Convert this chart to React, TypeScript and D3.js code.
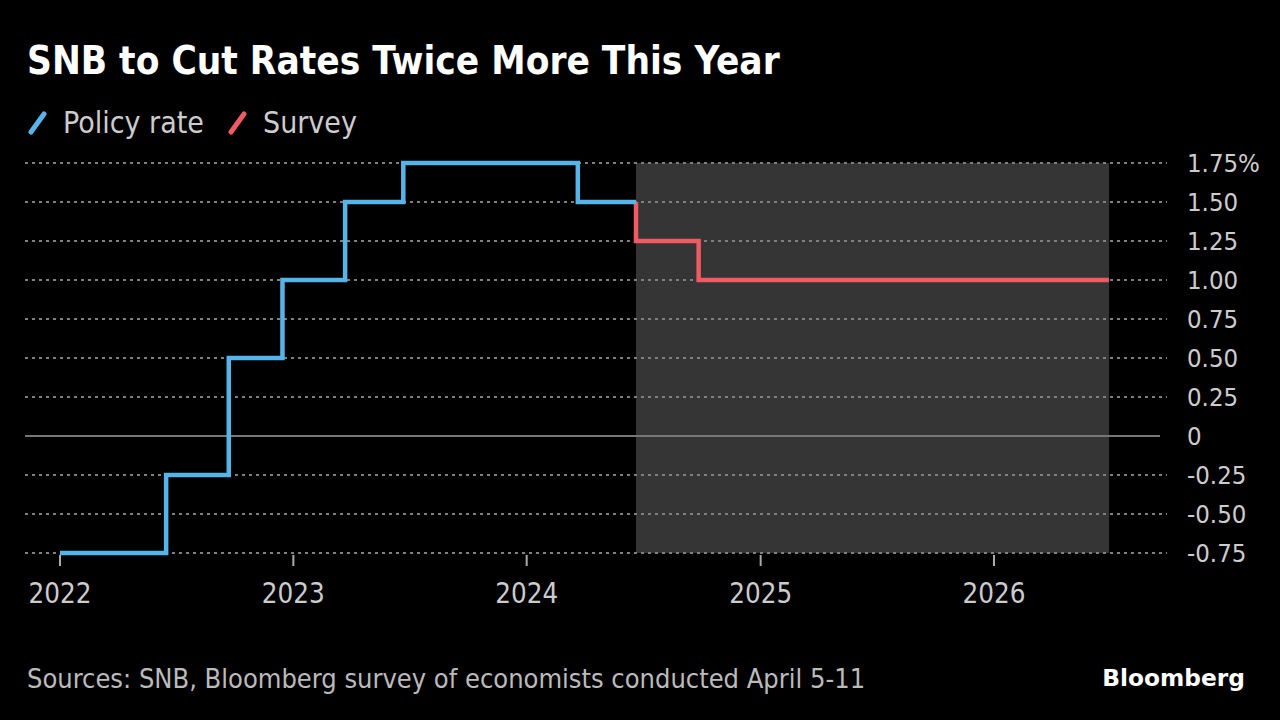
import React from "react";
import * as d3 from "d3";

const policyDates = ["2022-01-01", "2022-06-16", "2022-09-22", "2022-12-15", "2023-03-23", "2023-06-22", "2024-03-21", "2024-06-20"];
const policyValues = [-0.75, -0.25, 0.5, 1.0, 1.5, 1.75, 1.5, 1.5];

const surveyDates = ["2024-06-20", "2024-06-20", "2024-09-26", "2026-06-30"];
const surveyValues = [1.5, 1.25, 1.0, 1.0];

const forecastStart = "2024-06-20";
const forecastEnd = "2026-06-30";

const yTicks = [1.75, 1.5, 1.25, 1.0, 0.75, 0.5, 0.25, 0, -0.25, -0.5, -0.75];
const yTickLabels = ["1.75%", "1.50", "1.25", "1.00", "0.75", "0.50", "0.25", "0", "-0.25", "-0.50", "-0.75"];
const xTickYears = [2022, 2023, 2024, 2025, 2026];

const FONT = "'DejaVu Sans Condensed', 'DejaVu Sans', sans-serif";

export default function App() {
  const W = 1280;
  const H = 720;
  const parse = d3.timeParse("%Y-%m-%d");
  const x = d3.scaleTime().domain([new Date(2022, 0, 1), new Date(2026, 0, 1)]).range([60, 994]);
  const y = d3.scaleLinear().domain([-0.75, 1.75]).range([553, 163]);

  const policy = policyDates.map((d, i) => ({ date: parse(d) as Date, v: policyValues[i] }));
  const survey = surveyDates.map((d, i) => ({ date: parse(d) as Date, v: surveyValues[i] }));

  const line = d3
    .line<{ date: Date; v: number }>()
    .x((d) => x(d.date))
    .y((d) => y(d.v))
    .curve(d3.curveStepAfter);

  const fs = parse(forecastStart) as Date;
  const fe = parse(forecastEnd) as Date;

  return (
    <svg width={W} height={H} style={{ position: "absolute", left: 0, top: 0, background: "#000" }}>
      <rect x={0} y={0} width={W} height={H} fill="#000" />
      <text x={27} y={74} fill="#ffffff" fontFamily={FONT} fontWeight="bold" fontSize={38.4}>
        SNB to Cut Rates Twice More This Year
      </text>
      {/* legend */}
      <line x1={31} y1={132} x2={44} y2={114} stroke="#56b4e9" strokeWidth={5} strokeLinecap="round" />
      <text x={63} y={133} fill="#cccccc" fontFamily={FONT} fontSize={30}>Policy rate</text>
      <line x1={231} y1={132} x2={244} y2={114} stroke="#ef5a63" strokeWidth={5} strokeLinecap="round" />
      <text x={263} y={133} fill="#cccccc" fontFamily={FONT} fontSize={30}>Survey</text>

      {/* forecast shade */}
      <rect x={x(fs)} y={y(1.75)} width={x(fe) - x(fs)} height={y(-0.75) - y(1.75)} fill="#353535" />

      {/* grid */}
      {yTicks.map((t) =>
        t === 0 ? (
          <line key={t} x1={25} x2={1160} y1={y(t)} y2={y(t)} stroke="#777" strokeWidth={2} />
        ) : (
          <line key={t} x1={25} x2={1167} y1={y(t)} y2={y(t)} stroke="#808080" strokeWidth={2} strokeDasharray="3,4" />
        )
      )}
      {yTicks.map((t, i) => (
        <text key={"l" + t} x={1187} y={y(t)} dy="0.36em" fill="#cccccc" fontFamily={FONT} fontSize={25.5}>
          {yTickLabels[i]}
        </text>
      ))}

      {/* x axis */}
      {xTickYears.map((yr) => {
        const xp = x(new Date(yr, 0, 1));
        return (
          <g key={yr}>
            <line x1={xp} x2={xp} y1={555} y2={566} stroke="#aaa" strokeWidth={2} />
            <text x={xp} y={603} textAnchor="middle" fill="#cccccc" fontFamily={FONT} fontSize={27.5}>
              {yr}
            </text>
          </g>
        );
      })}

      {/* lines */}
      <path d={line(survey) || ""} fill="none" stroke="#ef5a63" strokeWidth={4.5} strokeLinejoin="miter" />
      <path d={line(policy) || ""} fill="none" stroke="#56b4e9" strokeWidth={4.5} strokeLinejoin="miter" />

      {/* footer */}
      <text x={27} y={688} fill="#bbbbbb" fontFamily={FONT} fontSize={27}>
        Sources: SNB, Bloomberg survey of economists conducted April 5-11
      </text>
      <text x={1245} y={686} textAnchor="end" fill="#ffffff" fontFamily="'DejaVu Sans', sans-serif" fontWeight="bold" fontSize={23.3}>
        Bloomberg
      </text>
    </svg>
  );
}
